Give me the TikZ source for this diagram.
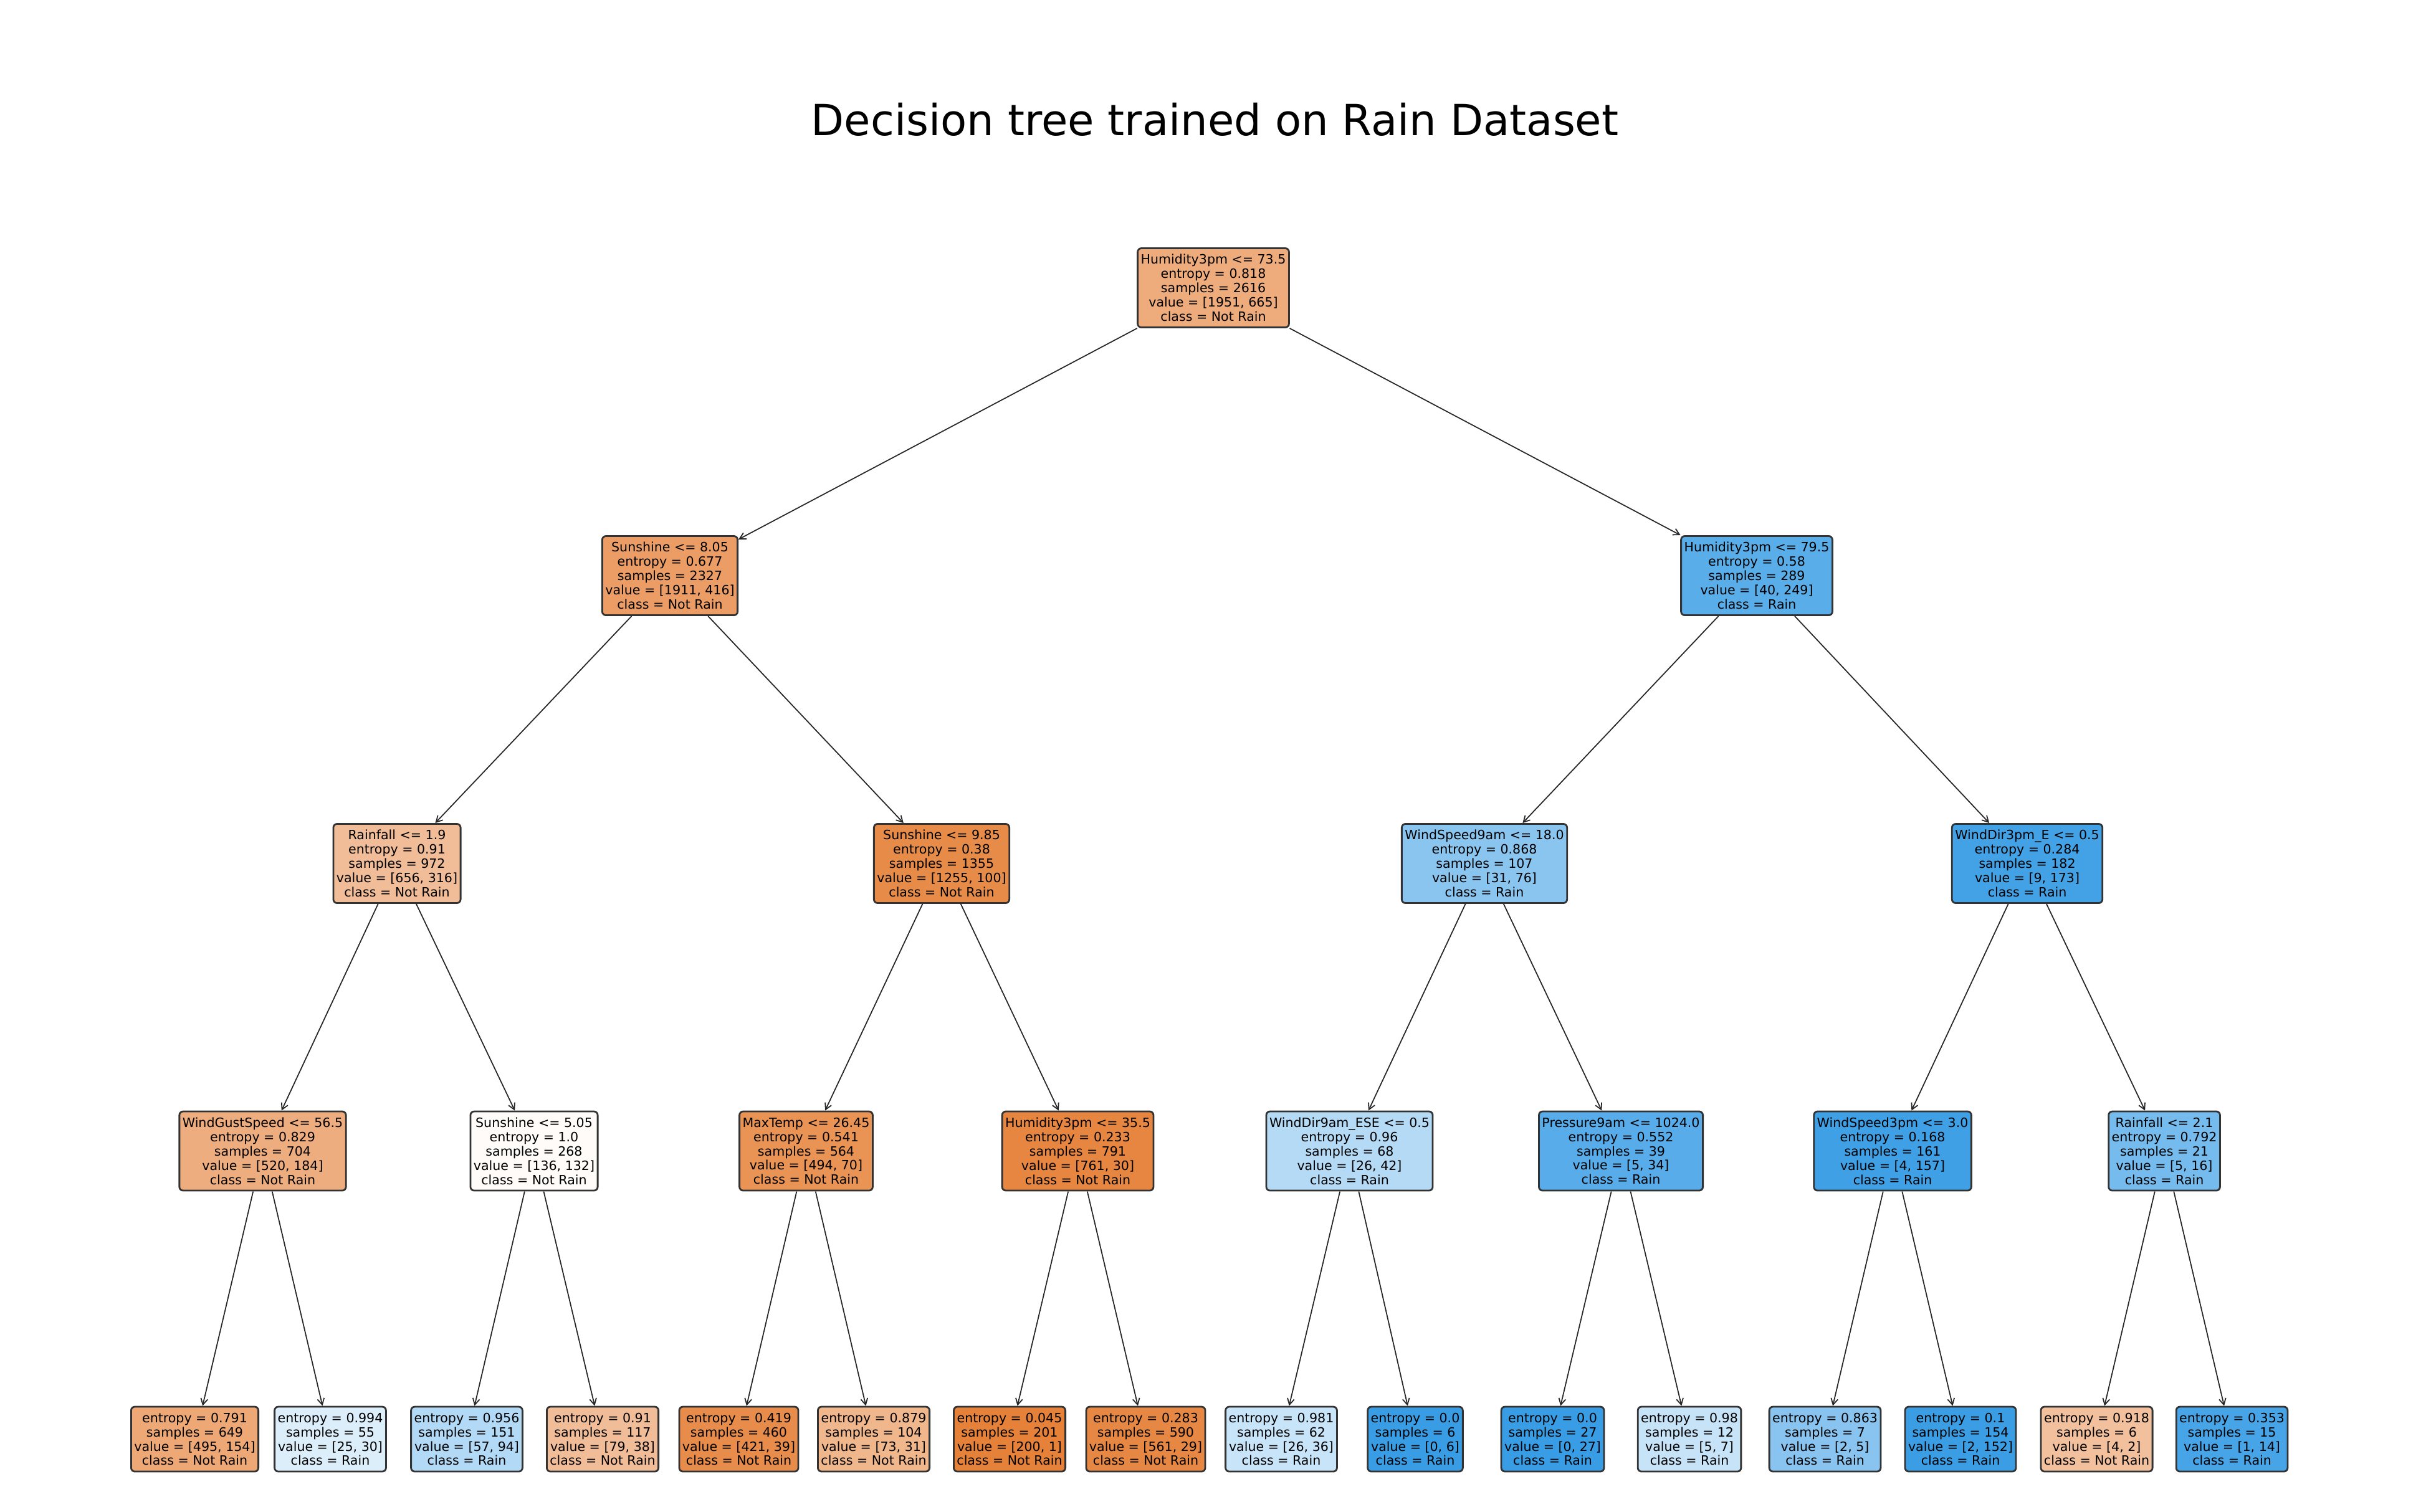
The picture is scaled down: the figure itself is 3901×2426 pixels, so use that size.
\documentclass[tikz,border=0pt]{standalone}
\usepackage{fontspec}
\setmainfont{DejaVu Sans}
\usepackage{xcolor}
\usepackage{tikz}
\usetikzlibrary{arrows.meta}

\definecolor{notrain}{HTML}{E58139}
\definecolor{rain}{HTML}{399DE5}
\tikzset{
    split/.style={draw=black!80, line width=0.8pt, rounded corners=0.06cm, align=center,
        font=\fontsize{5.85}{6.52}\selectfont, inner xsep=0.05cm, inner ysep=0pt, minimum height=1.27cm},
    leaf/.style={split, minimum height=1.04cm},
    edge/.style={-{Straight Barb[length=0.1cm, width=0.11cm]}, line width=0.5pt, black!85}
}

\begin{document}
\begin{tikzpicture}[x=0.01cm, y=-0.01cm]
        \useasboundingbox (0, 0) rectangle (3901, 2426);
        \node [anchor=base, font=\fontsize{19.6}{23}\selectfont] (title) at (1949.5, 217) {Decision tree trained on Rain Dataset};

        % depth 0 and 1
        \node [split, fill=notrain!66] (n0) at (1947, 462) {Humidity3pm <= 73.5\\entropy = 0.818\\samples = 2616\\value = [1951, 665]\\class = Not Rain};
        \node [split, fill=notrain!78] (n1) at (1075, 924) {Sunshine <= 8.05\\entropy = 0.677\\samples = 2327\\value = [1911, 416]\\class = Not Rain};
        \node [split, fill=rain!84] (n2) at (2819, 924) {Humidity3pm <= 79.5\\entropy = 0.58\\samples = 289\\value = [40, 249]\\class = Rain};

        % depth 2
        \node [split, fill=notrain!52] (n3) at (637, 1386) {Rainfall <= 1.9\\entropy = 0.91\\samples = 972\\value = [656, 316]\\class = Not Rain};
        \node [split, fill=notrain!92] (n4) at (1511, 1386) {Sunshine <= 9.85\\entropy = 0.38\\samples = 1355\\value = [1255, 100]\\class = Not Rain};
        \node [split, fill=rain!59] (n5) at (2382, 1386) {WindSpeed9am <= 18.0\\entropy = 0.868\\samples = 107\\value = [31, 76]\\class = Rain};
        \node [split, fill=rain!95] (n6) at (3253, 1386) {WindDir3pm\_E <= 0.5\\entropy = 0.284\\samples = 182\\value = [9, 173]\\class = Rain};

        % depth 3
        \node [split, fill=notrain!65] (n7) at (421.5, 1847.5) {WindGustSpeed <= 56.5\\entropy = 0.829\\samples = 704\\value = [520, 184]\\class = Not Rain};
        \node [split, fill=notrain!3] (n8) at (857, 1847.5) {Sunshine <= 5.05\\entropy = 1.0\\samples = 268\\value = [136, 132]\\class = Not Rain};
        \node [split, fill=notrain!86] (n9) at (1293.5, 1847.5) {MaxTemp <= 26.45\\entropy = 0.541\\samples = 564\\value = [494, 70]\\class = Not Rain};
        \node [split, fill=notrain!96] (n10) at (1729.5, 1847.5) {Humidity3pm <= 35.5\\entropy = 0.233\\samples = 791\\value = [761, 30]\\class = Not Rain};
        \node [split, fill=rain!38] (n11) at (2165.5, 1847.5) {WindDir9am\_ESE <= 0.5\\entropy = 0.96\\samples = 68\\value = [26, 42]\\class = Rain};
        \node [split, fill=rain!85] (n12) at (2601, 1847.5) {Pressure9am <= 1024.0\\entropy = 0.552\\samples = 39\\value = [5, 34]\\class = Rain};
        \node [split, fill=rain!97] (n13) at (3037, 1847.5) {WindSpeed3pm <= 3.0\\entropy = 0.168\\samples = 161\\value = [4, 157]\\class = Rain};
        \node [split, fill=rain!69] (n14) at (3473, 1847.5) {Rainfall <= 2.1\\entropy = 0.792\\samples = 21\\value = [5, 16]\\class = Rain};

        % leaves
        \node [leaf, fill=notrain!69] (l1) at (312.5, 2310) {entropy = 0.791\\samples = 649\\value = [495, 154]\\class = Not Rain};
        \node [leaf, fill=rain!17] (l2) at (530, 2310) {entropy = 0.994\\samples = 55\\value = [25, 30]\\class = Rain};
        \node [leaf, fill=rain!39] (l3) at (749, 2310) {entropy = 0.956\\samples = 151\\value = [57, 94]\\class = Rain};
        \node [leaf, fill=notrain!52] (l4) at (967, 2310) {entropy = 0.91\\samples = 117\\value = [79, 38]\\class = Not Rain};
        \node [leaf, fill=notrain!91] (l5) at (1185.5, 2310) {entropy = 0.419\\samples = 460\\value = [421, 39]\\class = Not Rain};
        \node [leaf, fill=notrain!58] (l6) at (1402, 2310) {entropy = 0.879\\samples = 104\\value = [73, 31]\\class = Not Rain};
        \node [leaf, fill=notrain] (l7) at (1620, 2310) {entropy = 0.045\\samples = 201\\value = [200, 1]\\class = Not Rain};
        \node [leaf, fill=notrain!95] (l8) at (1838.5, 2310) {entropy = 0.283\\samples = 590\\value = [561, 29]\\class = Not Rain};
        \node [leaf, fill=rain!28] (l9) at (2056, 2310) {entropy = 0.981\\samples = 62\\value = [26, 36]\\class = Rain};
        \node [leaf, fill=rain] (l10) at (2271, 2310) {entropy = 0.0\\samples = 6\\value = [0, 6]\\class = Rain};
        \node [leaf, fill=rain] (l11) at (2491.5, 2310) {entropy = 0.0\\samples = 27\\value = [0, 27]\\class = Rain};
        \node [leaf, fill=rain!29] (l12) at (2711, 2310) {entropy = 0.98\\samples = 12\\value = [5, 7]\\class = Rain};
        \node [leaf, fill=rain!60] (l13) at (2928.5, 2310) {entropy = 0.863\\samples = 7\\value = [2, 5]\\class = Rain};
        \node [leaf, fill=rain!99] (l14) at (3146, 2310) {entropy = 0.1\\samples = 154\\value = [2, 152]\\class = Rain};
        \node [leaf, fill=notrain!50] (l15) at (3364.5, 2310) {entropy = 0.918\\samples = 6\\value = [4, 2]\\class = Not Rain};
        \node [leaf, fill=rain!93] (l16) at (3581.5, 2310) {entropy = 0.353\\samples = 15\\value = [1, 14]\\class = Rain};

        \foreach \a/\b in {n0/n1, n0/n2, n1/n3, n1/n4, n2/n5, n2/n6,
                n3/n7, n3/n8, n4/n9, n4/n10, n5/n11, n5/n12, n6/n13, n6/n14,
                n7/l1, n7/l2, n8/l3, n8/l4, n9/l5, n9/l6, n10/l7, n10/l8,
                n11/l9, n11/l10, n12/l11, n12/l12, n13/l13, n13/l14, n14/l15, n14/l16} {
            \draw [edge] (\a) -- (\b);
        }
    \end{tikzpicture}
\end{document}
